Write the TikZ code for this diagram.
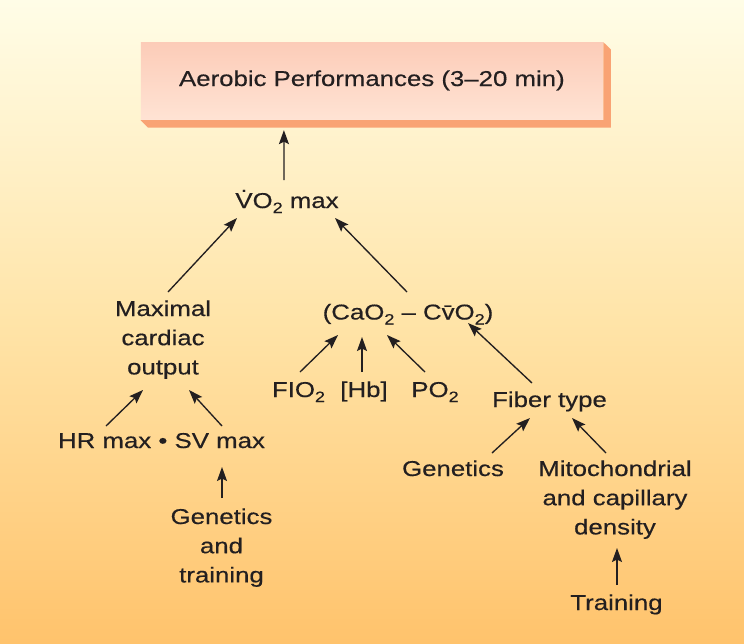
\documentclass[tikz,border=0pt]{standalone}
\usepackage{fontspec}
\setmainfont{Liberation Sans}[FakeStretch=1.2,FakeBold=0.4]
\usetikzlibrary{arrows.meta}
\definecolor{ink}{HTML}{231F20}
\definecolor{bgtop}{HTML}{FFFDE7}
\definecolor{bgmid}{HTML}{FFE4A8}
\definecolor{bgbot}{HTML}{FFC36C}
\definecolor{facetop}{HTML}{FCCCB8}
\definecolor{facebot}{HTML}{FFE3D4}
\definecolor{bevel}{HTML}{F9A374}
\newcommand\lblfont{\fontsize{21.5pt}{29.2pt}\selectfont}
\newcommand\stacklines[1]{\begin{tabular}[t]{@{}c@{}}#1\end{tabular}}
\newcommand\subtwo{\raisebox{-5pt}{\fontsize{15pt}{15pt}\selectfont 2}}
\tikzset{
  lbl/.style={inner sep=0pt, anchor=base, text=ink, font=\lblfont},
  arr/.style={draw=ink, line width=1.35pt, -{Stealth[length=14pt,width=10pt,inset=2.5pt]}},
  facebox/.style={inner sep=0pt, minimum width=462.3pt, minimum height=77.7pt,
    top color=facetop, bottom color=facebot, text=ink, font=\lblfont,
    text height=15.5pt, text depth=5.7pt},
}
\begin{document}
\begin{tikzpicture}[x=1pt,y=-1pt]
\useasboundingbox (0,0) rectangle (744,643);
\shade[top color=bgtop, bottom color=bgbot, middle color=bgmid] (0,0) rectangle (744,643);

% top box
\node[facebox] (box) at (371.9,81.1) {Aerobic Performances (3--20 min)};
\fill[bevel] (box.north east) -- ([shift={(7.7,7.5)}]box.north east)
  -- ([shift={(7.7,7.5)}]box.south east) -- ([shift={(7.5,7.5)}]box.south west)
  -- (box.south west) -- (box.south east) -- cycle;

% labels
\node[lbl] (vo2) at (287,208) {\.{V}O\subtwo{} max};
\node[lbl] (cao2) at (408,319.5) {(CaO\subtwo{} -- C\={v}O\subtwo)};
\node[lbl] (maximal) at (163,316) {\stacklines{Maximal\\cardiac\\output}};
\node[lbl] (hrsv) at (161.5,448) {HR max \textbullet{} SV max};
\node[lbl] (gt) at (221.5,524) {\stacklines{Genetics\\and\\training}};
\node[lbl] (fio) at (298.5,397) {FIO\subtwo};
\node[lbl] (hb) at (364,397) {[Hb]};
\node[lbl] (po) at (435,397) {PO\subtwo};
\node[lbl] (fiber) at (549.5,407) {Fiber type};
\node[lbl] (gen) at (453,476) {Genetics};
\node[lbl] (mito) at (615,476) {\stacklines{Mitochondrial\\and capillary\\density}};
\node[lbl] (train) at (616.5,610) {Training};

% arrows
\draw[arr] ([shift={(-3,-28)}]vo2.base) -- ([shift={(-88,10)}]box.south);
\draw[arr] ([shift={(5,-24)}]maximal.base) -- ([shift={(-50,10)}]vo2.base);
\draw[arr] ([shift={(-1,-27.5)}]cao2.base) -- ([shift={(48,10)}]vo2.base);
\draw[arr] ([shift={(-55.5,-22)}]hrsv.base) -- ([shift={(-20,74)}]maximal.base);
\draw[arr] ([shift={(60.5,-22)}]hrsv.base) -- ([shift={(26,74)}]maximal.base);
\draw[arr] ([shift={(0.5,-26)}]gt.base) -- ([shift={(60.5,19)}]hrsv.base);
\draw[arr] ([shift={(1.5,-25)}]fio.base) -- ([shift={(-70,15.5)}]cao2.base);
\draw[arr] ([shift={(-2,-25)}]hb.base) -- ([shift={(-46,17.5)}]cao2.base);
\draw[arr] ([shift={(-10,-25)}]po.base) -- ([shift={(-21,15.5)}]cao2.base);
\draw[arr] ([shift={(-17.5,-24)}]fiber.base) -- ([shift={(60,3.5)}]cao2.base);
\draw[arr] ([shift={(39,-23)}]gen.base) -- ([shift={(-19.5,11)}]fiber.base);
\draw[arr] ([shift={(-9,-23)}]mito.base) -- ([shift={(22.5,11)}]fiber.base);
\draw[arr] ([shift={(0.5,-25)}]train.base) -- ([shift={(2,72)}]mito.base);
\end{tikzpicture}
\end{document}
